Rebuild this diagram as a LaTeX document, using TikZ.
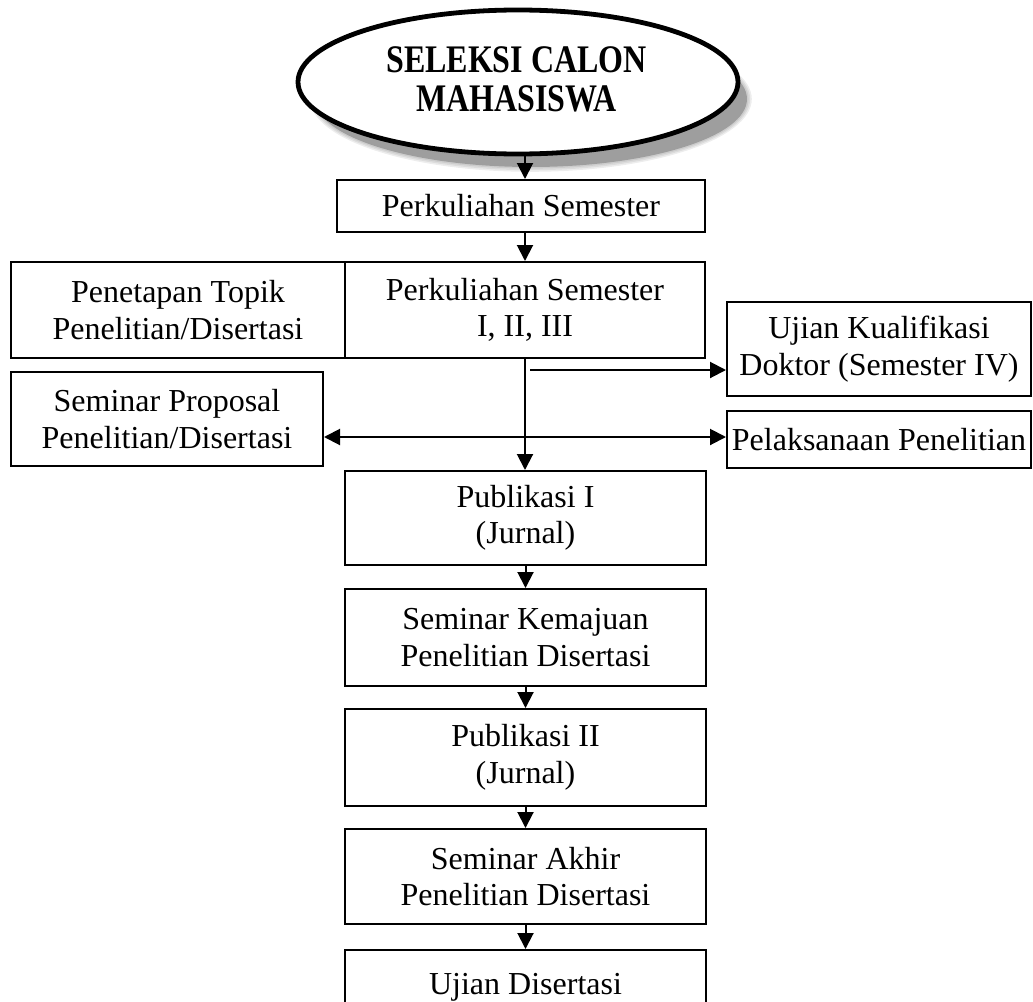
\documentclass[tikz,border=0pt]{standalone}
\usepackage{fontspec}
\usepackage{graphicx}
\setmainfont{Liberation Serif}
\usetikzlibrary{shapes.geometric,arrows.meta}
\begin{document}
\begin{tikzpicture}[x=1pt,y=-1pt,
  box/.style={draw, line width=2pt, rectangle, inner sep=0pt, align=center,
    font=\fontsize{32}{36.5}\selectfont},
  tip/.tip={Triangle[width=16pt,length=16pt]},
  arr/.style={line width=2pt, -tip},
  darr/.style={line width=2pt, tip-tip},
  shadowfill/.style={fill=black, opacity=0.07}]
\useasboundingbox (0,0) rectangle (1033,1001);
\clip (0,0) rectangle (1033,1001);
% shadow of the ellipse
\fill[black!22] (531,99) ellipse (216 and 68);
\foreach \k in {1,...,3} {
  \fill[shadowfill] (531,99) ellipse ({216+\k*1.6} and {68+\k*1.6});
}
\node[ellipse, draw, line width=4.8pt, fill=white, minimum width=440pt,
  minimum height=144pt, inner sep=0pt] (e) at (518,82) {};
\node[font=\bfseries\fontsize{32}{32}\selectfont, align=center, inner sep=0pt] (et) at (516.5,84.5)
  {\scalebox{1}[1.22]{\begin{tabular}{@{}c@{}}SELEKSI CALON\\[0pt]MAHASISWA\end{tabular}}};
% boxes
\node[box, minimum width=368pt, minimum height=52pt] (b1) at (521,206) {Perkuliahan Semester};
\node[box, minimum width=334pt, minimum height=96pt] (pt) at (178,310) {Penetapan Topik\\Penelitian/Disertasi};
\node[box, minimum width=360pt, minimum height=96pt] (m) at (525,310) {Perkuliahan Semester\\I, II, III};
\node[box, minimum width=304pt, minimum height=94pt] (u) at (879,349) {Ujian Kualifikasi\\Doktor (Semester IV)};
\node[box, minimum width=304pt, minimum height=57pt] (pl) at (879,439.5) {Pelaksanaan Penelitian};
\node[box, minimum width=312pt, minimum height=94pt] (sp) at (167,419) {Seminar Proposal\\Penelitian/Disertasi};
\node[box, minimum width=361pt, minimum height=94pt] (p1) at (525.5,518) {Publikasi I\\(Jurnal)};
\node[box, minimum width=361pt, minimum height=97pt] (sk) at (525.5,637.5) {Seminar Kemajuan\\Penelitian Disertasi};
\node[box, minimum width=361pt, minimum height=97pt] (p2) at (525.5,757.5) {Publikasi II\\(Jurnal)};
\node[box, minimum width=361pt, minimum height=95pt] (sa) at (525.5,876.5) {Seminar Akhir\\Penelitian Disertasi};
\node[box, minimum width=361pt, minimum height=74pt] (ud) at (525.5,987) {Ujian Disertasi};
% connectors
\draw[arr] (e.south -| m.north) -- (b1.north -| m.north);
\draw[arr] (b1.south -| m.north) -- (m.north);
\draw[arr] (m.south) -- (m.south |- p1.north);
\coordinate (k1) at (530,370);
\draw[arr] (k1) -- (k1 -| u.west);
\coordinate (k2) at (525,437);
\draw[darr] (k2 -| sp.east) -- (k2 -| pl.west);
\draw[arr] (p1.south) -- (sk.north);
\draw[arr] (sk.south) -- (p2.north);
\draw[arr] (p2.south) -- (sa.north);
\draw[arr] (sa.south) -- (ud.north);
\end{tikzpicture}
\end{document}
